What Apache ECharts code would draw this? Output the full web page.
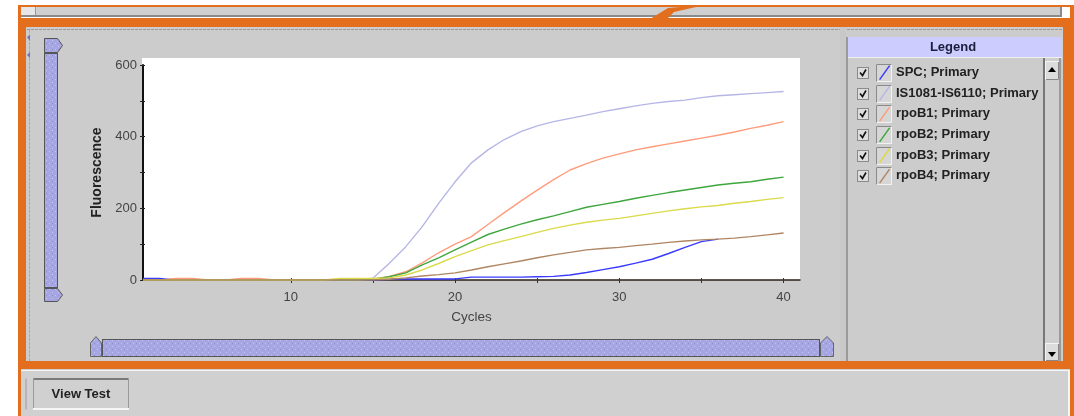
<!DOCTYPE html>
<html><head><meta charset="utf-8">
<script src="https://cdn.jsdelivr.net/npm/echarts@6/dist/echarts.min.js"></script>
<style>
html,body{margin:0;padding:0;width:1074px;height:416px;overflow:hidden;background:#fff;font-family:"Liberation Sans",Arial,sans-serif;}
#chrome{position:absolute;left:0;top:0;z-index:1;}
#chart{position:absolute;left:0;top:0;width:1074px;height:416px;z-index:5;}
.txt{position:absolute;z-index:6;font-weight:bold;font-size:13px;color:#222;white-space:nowrap;}
</style></head><body>
<svg id="chrome" width="1074" height="416" xmlns="http://www.w3.org/2000/svg">
  <defs>
    <pattern id="dots" width="6" height="6" patternUnits="userSpaceOnUse">
      <rect width="6" height="6" fill="#a6a6e2"/>
      <rect x="1" y="1" width="1" height="1" fill="#c4c4f2"/>
      <rect x="4" y="4" width="1" height="1" fill="#c4c4f2"/>
      <rect x="4" y="1" width="1" height="1" fill="#8e8ecc"/>
    </pattern>
  </defs>
  <!-- outer thin orange frame -->
  <rect x="18" y="5" width="1056" height="2" fill="#e36f1e"/>
  <rect x="18" y="5" width="3" height="411" fill="#e36f1e"/>
  <rect x="1070" y="5" width="4" height="411" fill="#e36f1e"/>
  <!-- top gray bar -->
  <rect x="21" y="7" width="1041" height="10" fill="#cfcfcf"/>
  <rect x="21" y="15" width="1041" height="2" fill="#8a8a8a"/>
  <rect x="1060" y="7" width="2" height="10" fill="#8a8a8a"/>
  <rect x="21" y="7" width="14" height="8" fill="#e6e6e6"/>
  <rect x="35" y="7" width="1" height="8" fill="#999"/>
  <rect x="1062" y="7" width="8" height="11" fill="#fff"/>
  <!-- pointer -->
  <polygon points="650,19 668,8 705,5 674,12 667,19" fill="#e36f1e"/>
  <!-- thick orange frame -->
  <rect x="18" y="18" width="1056" height="351" fill="#e36f1e"/>
  <rect x="26" y="27" width="1037" height="334" fill="#cccccc"/>
  <line x1="27" y1="29.5" x2="1062" y2="29.5" stroke="#999" stroke-dasharray="3,1"/>
  <line x1="29.5" y1="30" x2="29.5" y2="361" stroke="#aaa" stroke-dasharray="3,1"/>
  <polygon points="27,37 30,35 30,41" fill="#7070c0"/>
  <polygon points="27,55 30,52 30,58" fill="#7070c0"/>
  <!-- plot background -->
  <rect x="142" y="58" width="658" height="222" fill="#ffffff"/>
  <!-- vertical slider -->
  <polygon points="44.5,38.5 57.5,38.5 62.5,45.5 57.5,52.5 44.5,52.5" fill="url(#dots)" stroke="#555"/>
  <rect x="44.5" y="53.5" width="13" height="234" fill="url(#dots)" stroke="#555"/>
  <polygon points="44.5,288.5 57.5,288.5 62.5,295 57.5,301.5 44.5,301.5" fill="url(#dots)" stroke="#555"/>
  <!-- horizontal slider -->
  <polygon points="90.5,343 96,336.5 101.5,343 101.5,356.5 90.5,356.5" fill="url(#dots)" stroke="#666"/>
  <rect x="102.5" y="339.5" width="717" height="17" fill="url(#dots)" stroke="#555"/>
  <polygon points="820.5,343 827,336.5 833.5,343 833.5,356.5 820.5,356.5" fill="url(#dots)" stroke="#666"/>
  <!-- legend panel -->
  <rect x="840" y="27" width="6" height="334" fill="#c8c8c8"/>
  <rect x="846" y="37" width="2" height="324" fill="#9a9a9a"/>
  <rect x="848" y="37" width="214" height="20" fill="#ccccff"/>
  <rect x="848" y="57" width="214" height="1" fill="#f0f0f0"/>
  <rect x="848" y="58" width="196" height="303" fill="#cccccc"/>
  <rect x="1043" y="58" width="2" height="303" fill="#777"/>
  <rect x="1045" y="58" width="15" height="303" fill="#cfcfcf"/>
  <rect x="1059" y="58" width="2" height="303" fill="#9a9a9a"/>
  <rect x="1045.5" y="61.5" width="13" height="18" fill="#dcdcdc" stroke="#f4f4f4"/>
  <polyline points="1046,79.5 1058.5,79.5 1058.5,62" fill="none" stroke="#888"/>
  <polygon points="1048,72 1056,72 1052,67" fill="#000"/>
  <rect x="1045.5" y="343.5" width="13" height="17" fill="#dcdcdc" stroke="#f4f4f4"/>
  <polyline points="1046,360.5 1058.5,360.5 1058.5,344" fill="none" stroke="#888"/>
  <polygon points="1048,352 1056,352 1052,357" fill="#000"/>
  <g id="legendboxes"></g>
  <!-- bottom area -->
  <rect x="21" y="369" width="1049" height="47" fill="#d0d0d0"/>
  <rect x="21" y="370" width="1049" height="1" fill="#f6f6f6"/>
  <rect x="1068" y="371" width="2" height="45" fill="#f6f6f6"/>
  <rect x="25.5" y="378.5" width="1" height="31" fill="#9a9a9a"/>
  <rect x="33" y="378" width="96" height="32" fill="#d0d0d0"/>
  <rect x="33" y="378" width="96" height="2" fill="#7a7a7a"/>
  <rect x="33" y="378" width="1" height="32" fill="#9a9a9a"/>
  <rect x="128" y="378" width="1" height="32" fill="#9a9a9a"/>
  <rect x="33" y="408" width="96" height="2" fill="#f6f6f6"/>
</svg>
<div class="txt" style="left:846px;top:39px;width:214px;text-align:center;color:#1c1c3c;">Legend</div>
<div class="txt" style="left:33px;top:386px;width:96px;text-align:center;">View Test</div>
<div id="chart"></div>
<script>
// ---- data ----
const cycles = [1,2,3,4,5,6,7,8,9,10,11,12,13,14,15,16,17,18,19,20,21,22,23,24,25,26,27,28,29,30,31,32,33,34,35,36,37,38,39,40];
const spc = [4,4,0,0,0,0,0,0,0,0,0,0,0,0,0,2,3,3,3,3,8,8,8,8,9,10,14,21,29,37,47,58,74,91,107,114,null,null,null,null];
const is1081 = [0,0,0,0,0,0,0,0,0,0,0,0,0,0,5,47,93,149,214,274,327,363,392,414,430,442,451,460,470,478,486,493,498,502,509,514,517,520,523,526];
const rpoB1 = [0,0,4,4,0,0,4,4,0,0,0,0,0,0,2,10,23,48,76,100,121,155,188,220,251,280,307,325,340,352,363,372,380,388,396,404,413,423,432,442];
const rpoB2 = [0,0,0,0,0,0,0,0,0,0,0,0,0,0,2,9,20,42,62,84,106,127,142,156,168,179,191,203,211,219,228,236,244,251,258,265,270,274,281,287];
const rpoB3 = [0,0,0,0,0,0,0,0,0,0,0,0,4,4,4,6,14,28,46,65,82,98,110,121,133,144,153,161,167,172,179,186,193,199,204,208,214,219,225,230];
const rpoB4 = [0,0,0,0,0,0,0,0,0,0,0,0,0,0,0,2,6,11,15,20,28,37,45,53,62,70,77,84,88,91,96,100,105,109,112,114,117,121,126,131];
const seriesNames = ['SPC; Primary','IS1081-IS6110; Primary','rpoB1; Primary','rpoB2; Primary','rpoB3; Primary','rpoB4; Primary'];
const xTickValues = [10,15,20,25,30,35,40];
const xLabelValues = [10,20,30,40];
const yTickValues = [0,100,200,300,400,500,600];
const yLabelValues = [0,200,400,600];

// legend checkbox / icon frames (chrome)
(function(){
  const g = document.getElementById('legendboxes');
  let s = '';
  for (let i = 0; i < seriesNames.length; i++) {
    const cy = 72.3 + 20.7 * i;
    const t = Math.round(cy - 5.5) + 0.5;
    s += '<rect x="857.5" y="' + t + '" width="11" height="11" fill="#dedede" stroke="#8a8a8a"/>';
    s += '<polyline points="860,' + (t+5) + ' 862.5,' + (t+8) + ' 866,' + (t+2) + '" fill="none" stroke="#111" stroke-width="1.6"/>';
    const bt = Math.round(cy - 8.5) + 0.5;
    s += '<rect x="876.5" y="' + bt + '" width="15" height="17" fill="#d6d6d6" stroke="#f2f2f2"/>';
    s += '<polyline points="876.5,' + (bt+17) + ' 876.5,' + bt + ' 891.5,' + bt + '" fill="none" stroke="#8a8a8a"/>';
  }
  g.innerHTML = s;
})();

const colors = ['#3a3aff','#b6b6e6','#ff9c7c','#3ea63e','#dada4a','#b08662'];
const values = [spc, is1081, rpoB1, rpoB2, rpoB3, rpoB4];
const chart = echarts.init(document.getElementById('chart'), null, {renderer:'canvas'});
const font = '"Liberation Sans", Arial, sans-serif';
chart.setOption({
  backgroundColor: 'transparent',
  animation: false,
  color: colors,
  grid: {left: 143, right: 274, top: 65, bottom: 136},
  legend: {
    orient: 'vertical',
    left: 877, top: 63.8, padding: 0,
    itemWidth: 14, itemHeight: 17, itemGap: 3.7,
    icon: 'path://M0,0L0,0M14,17L14,17M2,15.5L12,1.5L13.2,2.3L3.2,16.3Z',
    textStyle: {fontFamily: font, fontSize: 13, fontWeight: 'bold', color: '#222'},
    data: seriesNames
  },
  xAxis: [{
    type: 'value', min: 1, max: 41,
    name: 'Cycles', nameLocation: 'middle', nameGap: 30,
    nameTextStyle: {fontFamily: font, fontSize: 13.5, color: '#444'},
    axisLine: {lineStyle: {color: '#2b1f14', width: 1.5}},
    axisTick: {customValues: xTickValues, length: 3, lineStyle: {color: '#333'}},
    axisLabel: {customValues: xLabelValues, margin: 11, fontFamily: font, fontSize: 13, color: '#444'},
    splitLine: {show: false}
  }, {
    type: 'value', min: 1, max: 41, position: 'bottom',
    axisLine: {show: false},
    axisTick: {customValues: xTickValues, inside: true, length: 2, lineStyle: {color: '#333'}},
    axisLabel: {show: false}, splitLine: {show: false}
  }],
  yAxis: [{
    type: 'value', min: 0, max: 600,
    name: 'Fluorescence', nameLocation: 'middle', nameGap: 35,
    nameTextStyle: {fontFamily: font, fontSize: 14, fontWeight: 'bold', color: '#222'},
    axisLine: {show: true, lineStyle: {color: '#111', width: 2}},
    axisTick: {show: true, customValues: yTickValues, length: 3, lineStyle: {color: '#222'}},
    axisLabel: {customValues: yLabelValues, margin: 6, fontFamily: font, fontSize: 13, color: '#444'},
    splitLine: {show: false}
  }, {
    type: 'value', min: 0, max: 600, position: 'left',
    axisLine: {show: false},
    axisTick: {show: true, customValues: yTickValues, inside: true, length: 2, lineStyle: {color: '#222'}},
    axisLabel: {show: false}, splitLine: {show: false}
  }],
  series: seriesNames.map((n, k) => ({
    name: n, type: 'line', symbol: 'none', showSymbol: false,
    xAxisIndex: 0, yAxisIndex: 0,
    lineStyle: {width: 1.4},
    z: 2 + k,
    data: cycles.map((c, i) => [c, values[k][i]])
  }))
});
</script>
</body></html>
